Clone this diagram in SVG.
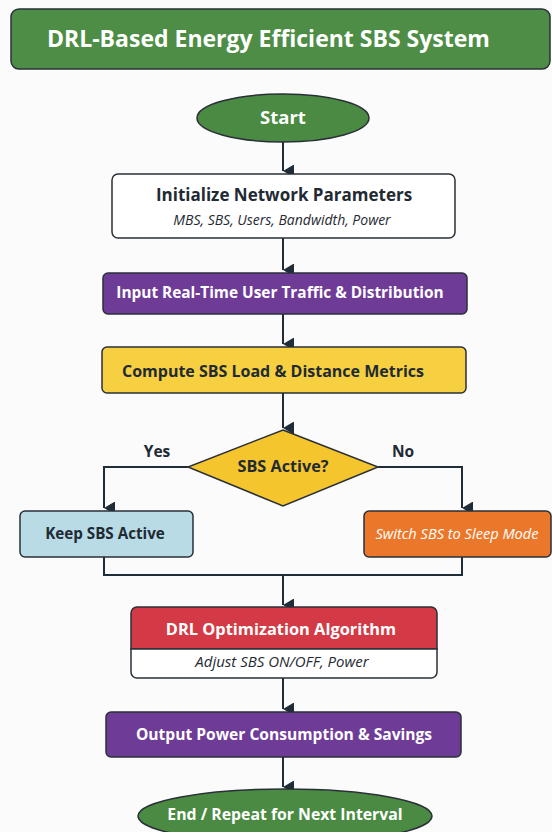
<svg xmlns="http://www.w3.org/2000/svg" width="552" height="832" viewBox="0 0 552 832">
  <defs>
    <marker id="arrow" viewBox="0 0 13 11" refX="6.5" refY="11" markerWidth="13" markerHeight="11" markerUnits="userSpaceOnUse" orient="auto-start-reverse">
      <path d="M0,0 L13,0 L6.5,11 Z" fill="#1f2d38"/>
    </marker>
    <style>
      text { font-family: "Open Sans", "Liberation Sans", sans-serif; text-anchor: middle; }
      .b { font-weight: 700; }
      .it { font-style: italic; }
      .box { stroke: #2a3038; stroke-width: 1.5; }
      .wire { fill: none; stroke: #1f2d38; stroke-width: 2; }
      .arr { marker-end: url(#arrow); }
      .light { fill: #ffffff; }
      .dark { fill: #1f2a33; }
    </style>
  </defs>

  <rect x="0" y="0" width="552" height="832" fill="#fbfbfb"/>

  <!-- header banner -->
  <g id="title">
    <rect class="box" x="11" y="9" width="539" height="60" rx="8" fill="#4d8d45"/>
    <text class="b light" x="47" y="47" font-size="23" style="text-anchor:start">DRL-Based Energy Efficient SBS System</text>
  </g>

  <!-- connectors -->
  <g id="connectors">
    <path class="wire arr" d="M283,142 V171"/>
    <path class="wire arr" d="M283,238 V270"/>
    <path class="wire arr" d="M283,314 V344"/>
    <path class="wire arr" d="M283,393 V428"/>
    <path class="wire arr" d="M188,467 H104 V508"/>
    <path class="wire arr" d="M378,467 H462 V508"/>
    <path class="wire" d="M104,557 V575 H462 V557"/>
    <path class="wire arr" d="M283,575 V605"/>
    <path class="wire arr" d="M283,678 V709"/>
    <path class="wire arr" d="M283,757 V787"/>
  </g>

  <g id="start">
    <ellipse class="box" cx="283" cy="118" rx="86" ry="24" fill="#4a8a42"/>
    <text class="b light" x="283" y="124" font-size="18.5">Start</text>
  </g>

  <g id="init">
    <rect class="box" x="112" y="174" width="343" height="64" rx="6" fill="#ffffff"/>
    <text class="b dark" x="284" y="201" font-size="17">Initialize Network Parameters</text>
    <text class="it dark" x="282" y="225" font-size="14">MBS, SBS, Users, Bandwidth, Power</text>
  </g>

  <g id="input">
    <rect class="box" x="103" y="273" width="364" height="41" rx="5" fill="#6e3c97"/>
    <text class="b light" x="280" y="298" font-size="15.4">Input Real-Time User Traffic &amp; Distribution</text>
  </g>

  <g id="compute">
    <rect class="box" x="102" y="347" width="364" height="46" rx="5" fill="#f6d040"/>
    <text class="b dark" x="273" y="377" font-size="16">Compute SBS Load &amp; Distance Metrics</text>
  </g>

  <g id="decision">
    <polygon class="box" points="283,430 378,467 283,506 188,467" fill="#f5c52e"/>
    <text class="b dark" x="283" y="472" font-size="16.2">SBS Active?</text>
  </g>

  <g id="branch-labels">
    <text class="b dark" x="157" y="457" font-size="15.5">Yes</text>
    <text class="b dark" x="403" y="457" font-size="15.5">No</text>
  </g>

  <g id="keep">
    <rect class="box" x="20" y="511" width="173" height="46" rx="5" fill="#b8dbe6"/>
    <text class="b dark" x="105" y="539" font-size="15.2">Keep SBS Active</text>
  </g>

  <g id="sleep">
    <rect class="box" x="364" y="511" width="187" height="46" rx="5" fill="#eb782a"/>
    <text class="it light" x="457" y="539" font-size="14.6">Switch SBS to Sleep Mode</text>
  </g>

  <g id="drl">
    <path class="box" d="M137,607 H431 A6,6 0 0 1 437,613 V649 H131 V613 A6,6 0 0 1 137,607 Z" fill="#d43a45"/>
    <path class="box" d="M131,649 H437 V672 A6,6 0 0 1 431,678 H137 A6,6 0 0 1 131,672 Z" fill="#ffffff"/>
    <text class="b light" x="281" y="635" font-size="16.4">DRL Optimization Algorithm</text>
    <text class="it dark" x="282" y="667" font-size="15">Adjust SBS ON/OFF, Power</text>
  </g>

  <g id="output">
    <rect class="box" x="106" y="712" width="355" height="45" rx="5" fill="#6e3c97"/>
    <text class="b light" x="284" y="740" font-size="15.6">Output Power Consumption &amp; Savings</text>
  </g>

  <g id="end">
    <ellipse class="box" cx="285" cy="816" rx="147" ry="27" fill="#4a8a42"/>
    <text class="b light" x="285" y="820" font-size="15.8">End / Repeat for Next Interval</text>
  </g>
</svg>
